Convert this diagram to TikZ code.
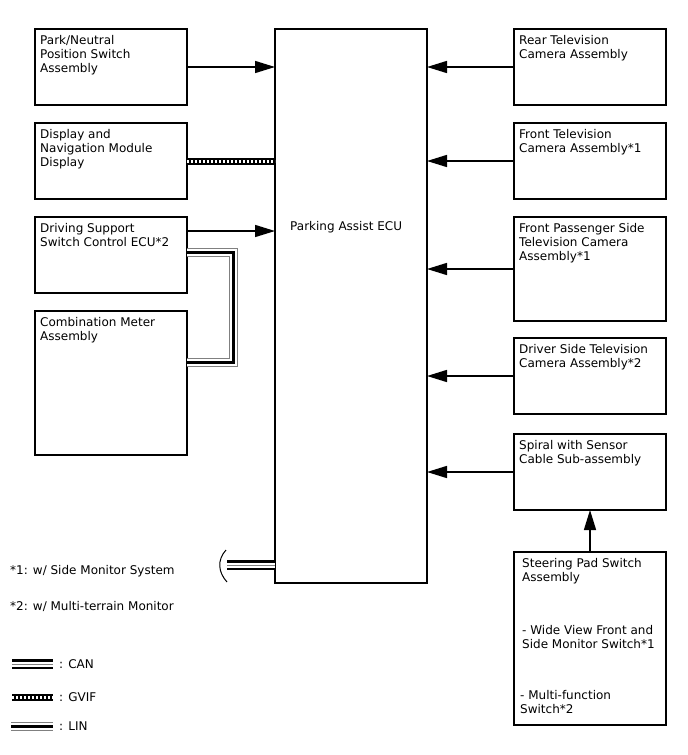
\documentclass[tikz,border=0pt]{standalone}
\usepackage{fontspec}
\setmainfont{DejaVu Sans}
\usetikzlibrary{positioning, arrows.meta, calc}

\begin{document}
\begin{tikzpicture}[x=1pt, y=-1pt,
    >={Triangle[length=20pt, width=12pt]},
    font=\fontsize{12}{14}\selectfont,
    bloc/.style={rectangle, draw, line width=1.2pt, minimum width=152pt, inner sep=0pt, outer sep=0pt},
    intitule/.style={anchor=north west, align=left, inner xsep=5pt, inner ysep=6pt},
    txt/.style={anchor=west, inner sep=0pt},
    fleche/.style={->, line width=1.5pt},
    can/.style={draw=black, line width=10pt,
                postaction={draw=white, line width=5pt},
                postaction={draw=gray, line width=1pt}},
    lin/.style={draw=gray, line width=9pt,
                postaction={draw=white, line width=7pt},
                postaction={draw=black, line width=3pt}},
    gvif/.style={draw=black, line width=7pt,
                 postaction={draw=white, line width=3pt, dash pattern=on 2pt off 2pt}}]
    \useasboundingbox (0,0) rectangle (688,755);
    % colonne de gauche
    \node[bloc, minimum height=76pt, label={[intitule]north west:{Park/Neutral\\Position Switch\\Assembly}}] (pns) at (111,67) {};
    \node[bloc, minimum height=76pt, below=18pt of pns, label={[intitule]north west:{Display and\\Navigation Module\\Display}}] (dnm) {};
    \node[bloc, minimum height=76pt, below=18pt of dnm, label={[intitule]north west:{Driving Support\\Switch Control ECU*2}}] (dss) {};
    \node[bloc, minimum height=144pt, below=18pt of dss, label={[intitule]north west:{Combination Meter\\Assembly}}] (cma) {};
    % ECU central
    \node[bloc, minimum height=554pt, right=88pt of pns.north east, anchor=north west] (ecu) {};
    \node[txt] (ecutxt) at (290,227) {Parking Assist ECU};
    % colonne de droite
    \node[bloc, minimum height=76pt, right=87pt of ecu.north east, anchor=north west, label={[intitule]north west:{Rear Television\\Camera Assembly}}] (rtv) {};
    \node[bloc, minimum height=76pt, below=18pt of rtv, label={[intitule]north west:{Front Television\\Camera Assembly*1}}] (ftv) {};
    \node[bloc, minimum height=104pt, below=18pt of ftv, label={[intitule]north west:{Front Passenger Side\\Television Camera\\Assembly*1}}] (fps) {};
    \node[bloc, minimum height=76pt, below=17pt of fps, label={[intitule]north west:{Driver Side Television\\Camera Assembly*2}}] (dst) {};
    \node[bloc, minimum height=76pt, below=20pt of dst, label={[intitule]north west:{Spiral with Sensor\\Cable Sub-assembly}}] (spi) {};
    \node[bloc, minimum height=173pt, below=42pt of spi, label={[intitule, inner xsep=6pt]north west:{\hspace*{2pt}Steering Pad Switch\\\hspace*{2pt}Assembly\\[39pt]\hspace*{2pt}- Wide View Front and\\\hspace*{2pt}Side Monitor Switch*1\\[37pt]- Multi-function\\Switch*2}}] (sps) {};
    % liaisons
    \coordinate (dssout) at ([yshift=-14pt]dss.north east);
    \coordinate (lina) at ([yshift=-35.5pt]dss.north east);
    \coordinate (linb) at ([yshift=-51pt]cma.north east);
    \coordinate (canbrk) at (227,565);
    \draw[fleche] (pns.east) -- (pns.east -| ecu.west);
    \draw[gvif] (dnm.east) -- (dnm.east -| ecu.west);
    \draw[fleche] (dssout) -- (dssout -| ecu.west);
    \draw[lin] (lina) -- ++(46,0) |- (linb);
    \draw[fleche] (rtv.west) -- (rtv.west -| ecu.east);
    \draw[fleche] (ftv.west) -- (ftv.west -| ecu.east);
    \draw[fleche] (fps.west) -- (fps.west -| ecu.east);
    \draw[fleche] (dst.west) -- (dst.west -| ecu.east);
    \draw[fleche] (spi.west) -- (spi.west -| ecu.east);
    \draw[fleche] (sps.north) -- (spi.south);
    \draw[can] (canbrk) -- (canbrk -| ecu.west);
    \draw[line width=1pt] (226,550) .. controls (217,560) and (218,572) .. (227,582);
    % légende
    \node[txt] (note1) at (10,571) {*1: w/ Side Monitor System};
    \node[txt] (note2) at (10,606) {*2: w/ Multi-terrain Monitor};
    \node[txt] (lcan) at (59,664) {: CAN};
    \node[txt] (lgvif) at (59,697) {: GVIF};
    \node[txt] (llin) at (59,726) {: LIN};
    \draw[can] (12,664) -- (53,664);
    \draw[gvif] (12,697) -- (53,697);
    \draw[lin] (11,726) -- (53,726);
\end{tikzpicture}
\end{document}
